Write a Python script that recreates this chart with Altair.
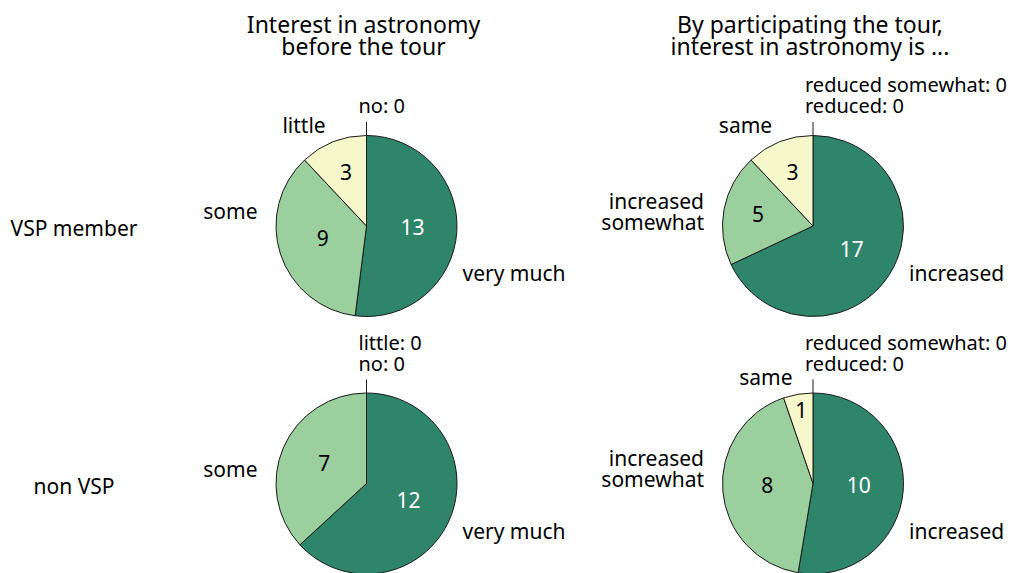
import altair as alt
import pandas as pd

# ---- data ----
panels = ["before", "after"]
groups = ["VSP member", "non VSP"]
panel_titles = [
    "Interest in astronomy\nbefore the tour",
    "By participating the tour,\ninterest in astronomy is ...",
]
before_cats = ["very much", "some", "little", "no"]
after_cats = ["increased", "increased somewhat", "same", "reduced somewhat", "reduced"]
vsp_before = [13, 9, 3, 0]
non_before = [12, 7, 0, 0]
vsp_after = [17, 5, 3, 0, 0]
non_after = [10, 8, 1, 0, 0]

tones = ["#2F856A", "#9BCF9E", "#F7F7CC"]
display_names = {"increased somewhat": "increased\nsomewhat"}

# ---- build tables ----
rows = []
zero_rows = []
for panel, cats, series in [
    ("before", before_cats, [vsp_before, non_before]),
    ("after", after_cats, [vsp_after, non_after]),
]:
    for group, vals in zip(groups, series):
        total = sum(vals)
        cum = 0
        zeros = []
        for rank, (c, v) in enumerate(zip(cats, vals)):
            if v > 0:
                lbl = display_names.get(c, c)
                rows.append(dict(
                    panel=panel, group=group, cat=c,
                    label=lbl, nlines=lbl.count("\n") + 1,
                    value=v, rank=rank,
                    start=cum / total, end=(cum + v) / total,
                    mid=(cum + v / 2) / total, share=v / total,
                ))
            else:
                zeros.append(f"{c}: {v}")
            cum += v
        if zeros:
            zero_rows.append(dict(panel=panel, group=group,
                                  text="\n".join(zeros), nlines=len(zeros)))

slices = pd.DataFrame(rows)
zeros_df = pd.DataFrame(zero_rows)
titles_df = pd.DataFrame({"panel": panels, "title": panel_titles})
groups_df = pd.DataFrame({"group": groups})

FONT = "Noto Sans"
R = 90.5
LH = 21

xs = alt.X("panel:N", scale=alt.Scale(type="point", domain=panels, range=[358.5, 805], padding=0), axis=None)
ys = alt.Y("group:N", scale=alt.Scale(type="point", domain=groups, range=[218, 475.5], padding=0), axis=None)
theta_scale = alt.Scale(domain=[0, 1], range=[0, 6.283185307179586])

pies = alt.Chart(slices).mark_arc(outerRadius=R, stroke="#1a1a1a", strokeWidth=1).encode(
    x=xs, y=ys,
    theta=alt.Theta("start:Q", scale=theta_scale, stack=None),
    theta2="end:Q",
    color=alt.Color("rank:O", scale=alt.Scale(domain=[0, 1, 2], range=tones), legend=None),
)

numbers = alt.Chart(slices).transform_calculate(
    nr="datum.share < 0.1 ? 72 : (datum.share < 0.3 ? 56 : 46)"
).mark_text(font=FONT, fontSize=21, baseline="middle", align="center").encode(
    x=xs, y=ys,
    theta=alt.Theta("mid:Q", scale=theta_scale, stack=None),
    radius=alt.Radius("nr:Q", scale=None),
    text="value:Q",
    color=alt.condition("datum.rank == 0", alt.value("white"), alt.value("black")),
)

lab0 = alt.Chart(slices).transform_filter("datum.rank == 0").mark_text(
    font=FONT, fontSize=21, align="left", baseline="alphabetic", dx=96, dy=55, color="black"
).encode(x=xs, y=ys, text="label:N")

lab1 = alt.Chart(slices).transform_filter("datum.rank == 1").transform_calculate(
    lift=f"-(datum.nlines - 1) * {LH} / 2"
).mark_text(
    font=FONT, fontSize=21, align="right", baseline="alphabetic", dx=-109, dy=-7,
    lineBreak="\n", lineHeight=LH, color="black"
).encode(x=xs, y=ys, yOffset=alt.YOffset("lift:Q", scale=None), text="label:N")

lab2 = alt.Chart(slices).transform_filter("datum.rank == 2").mark_text(
    font=FONT, fontSize=21, align="right", baseline="alphabetic", dx=-4, color="black"
).encode(
    x=xs, y=ys,
    theta=alt.Theta("mid:Q", scale=theta_scale, stack=None),
    radius=alt.value(100),
    text="label:N",
)

zero_lines = alt.Chart(zeros_df).mark_rule(
    color="#1a1a1a", strokeWidth=1, yOffset=-104, y2Offset=-R
).encode(x=xs, y=ys, y2="group:N")

zero_text = alt.Chart(zeros_df).transform_calculate(
    lift=f"-(datum.nlines - 1) * {LH}"
).mark_text(
    font=FONT, fontSize=20, align="left", baseline="alphabetic", dx=-8, dy=-113,
    lineBreak="\n", lineHeight=LH, color="black"
).encode(x=xs, y=ys, yOffset=alt.YOffset("lift:Q", scale=None), text="text:N")

title_text = alt.Chart(titles_df).mark_text(
    font=FONT, fontSize=23, align="center", baseline="alphabetic", dx=-3,
    lineBreak="\n", lineHeight=22, color="black"
).encode(x=xs, y=alt.value(25), text="title:N")

row_text = alt.Chart(groups_df).mark_text(
    font=FONT, fontSize=21, align="center", baseline="alphabetic", dy=10, color="black"
).encode(x=alt.value(66), y=ys, text="group:N")

chart = alt.layer(
    pies, numbers, lab0, lab1, lab2, zero_lines, zero_text, title_text, row_text
).properties(
    width=1000, height=565, autosize=alt.AutoSizeParams(type="none"), padding=0,
    background="white",
).configure_view(stroke=None)

chart.save("out.html", embed_options={"renderer": "svg", "actions": False})
